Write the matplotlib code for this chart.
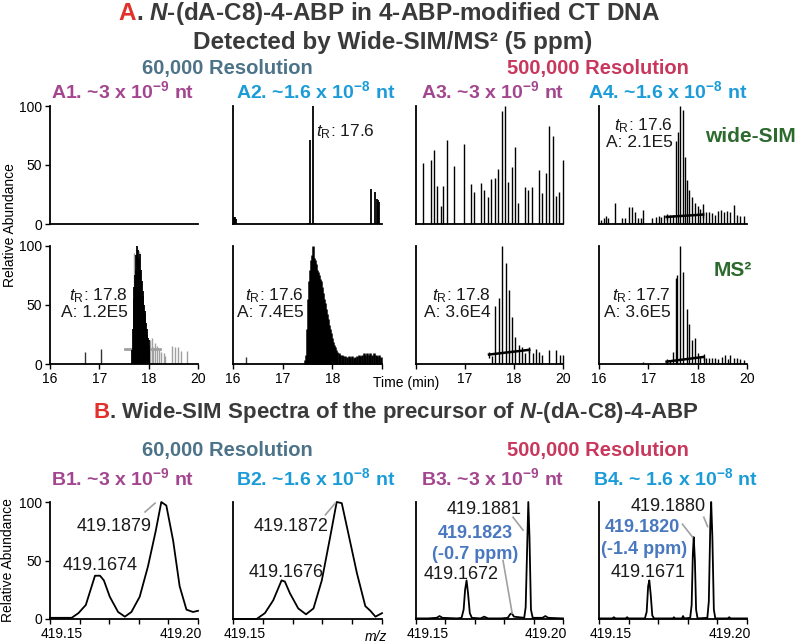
import matplotlib.pyplot as plt
import matplotlib.transforms as mtransforms

plt.rcParams['font.family'] = ['Liberation Sans', 'DejaVu Sans']
plt.rcParams['mathtext.fontset'] = 'custom'
plt.rcParams['mathtext.rm'] = 'Liberation Sans'
plt.rcParams['mathtext.it'] = 'Liberation Sans:italic'
plt.rcParams['mathtext.bf'] = 'Liberation Sans:bold'
plt.rcParams['mathtext.bfit'] = 'Liberation Sans:bold:italic'

RED = '#e2302b'
DARK = '#3a3a3a'
STEEL = '#4d7388'
CRIMSON = '#c9385c'
PURPLE = '#a3468f'
CYAN = '#1b9cd8'
GREEN = '#2d6a2e'
BLUE = '#4a78c0'
GREY = '#a0a0a0'

# ---------------- data ----------------
time_ticks = [16, 17, 18, 19]
time_labels = ['16', '17', '18', '20']
mz_ticks = [419.15, 419.16, 419.17, 419.18, 419.19, 419.20]
mz_labels = ['419.15', '', '', '', '', '419.20']

# A2 wide-SIM (60,000)
a2_sim_t = [16.03, 16.05, 16.07, 17.50, 17.55, 17.62, 17.66, 18.78, 18.85, 18.89, 18.91, 18.93]
a2_sim_y = [6, 6, 4, 1, 71, 100, 1, 30, 27, 21, 20, 19]

# A3 wide-SIM (500,000)
a3_sim_t = [16.15, 16.30, 16.37, 16.43, 16.50, 16.56, 16.64, 16.78, 16.98, 17.12, 17.19,
            17.32, 17.39, 17.47, 17.54, 17.61, 17.67, 17.75, 17.82, 17.88, 17.96, 18.02,
            18.09, 18.22, 18.29, 18.37, 18.50, 18.58, 18.65, 18.72, 18.79, 18.85, 18.92, 18.99]
a3_sim_y = [52, 54, 63, 32, 15, 32, 71, 49, 68, 34, 27, 35, 29, 23, 38, 39, 47, 96, 100,
            36, 48, 65, 18, 31, 29, 31, 46, 26, 43, 83, 75, 24, 27, 54]

# A4 wide-SIM (500,000)
a4_sim_t = [16.05, 16.10, 16.14, 16.19, 16.32, 16.46, 16.53, 16.60, 16.66, 16.73, 16.79,
            16.85, 16.90, 17.07, 17.15, 17.21, 17.25, 17.31, 17.37, 17.44, 17.50, 17.56,
            17.60, 17.65, 17.70, 17.75, 17.79, 17.83, 17.89, 17.95, 18.00, 18.05, 18.11,
            18.17, 18.22, 18.29, 18.36, 18.42, 18.47, 18.53, 18.59, 18.66, 18.73, 18.80,
            18.86, 18.93]
a4_sim_y = [3, 5, 7, 5, 18, 5, 5, 14, 14, 10, 5, 5, 12, 5, 6, 7, 6, 8, 6, 8, 8, 70, 78,
            100, 97, 57, 37, 29, 23, 18, 15, 13, 17, 10, 10, 9, 8, 11, 12, 10, 11, 10, 16,
            8, 7, 7]
a4_sim_base_t = [17.37, 18.11]
a4_sim_base_y = [6, 8]

# A1 MS2 (60,000)
a1_ms2_t = [17.67, 17.69, 17.70, 17.71, 17.73, 17.74, 17.75, 17.77, 17.78, 17.79, 17.81,
            17.82, 17.83, 17.85, 17.86, 17.88, 17.89, 17.90, 17.92, 17.93, 17.94, 17.96,
            17.97, 17.98, 18.00, 18.01]
a1_ms2_y = [12, 30, 55, 65, 75, 80, 92, 100, 90, 97, 88, 93, 78, 80, 70, 62, 58, 50, 45,
            42, 35, 30, 25, 22, 20, 15]
a1_ms2_spike_t = [16.71, 17.04]
a1_ms2_spike_y = [10, 13]
a1_ms2_grey_t = [17.71, 17.76, 17.80, 18.02, 18.06, 18.09, 18.12, 18.16, 18.21, 18.26,
                 18.31, 18.34, 18.48, 18.54, 18.60, 18.66, 18.78]
a1_ms2_grey_y = [94, 98, 96, 20, 22, 14, 18, 15, 12, 10, 9, 7, 15, 14, 14, 11, 11]
a1_ms2_base_t = [17.52, 18.23]
a1_ms2_base_y = [13, 13]

# A2 MS2 (60,000)
a2_ms2_t = [17.45, 17.47, 17.49, 17.51, 17.53, 17.55, 17.57, 17.59, 17.61, 17.63, 17.65,
            17.67, 17.69, 17.71, 17.73, 17.75, 17.77, 17.79, 17.81, 17.83, 17.85, 17.87,
            17.89, 17.91, 17.93, 17.95, 17.97, 17.99, 18.01, 18.03, 18.05, 18.07, 18.10,
            18.13, 18.16, 18.19, 18.22, 18.25, 18.29, 18.33, 18.36, 18.39, 18.43, 18.46,
            18.50, 18.53, 18.56, 18.60, 18.63, 18.66, 18.70, 18.73, 18.76, 18.80, 18.83,
            18.87, 18.90, 18.93, 18.97]
a2_ms2_y = [3, 8, 30, 55, 70, 80, 88, 92, 100, 90, 88, 85, 80, 78, 75, 72, 70, 65, 60, 55,
            52, 47, 42, 38, 33, 30, 26, 22, 19, 16, 14, 12, 10, 9, 8, 8, 7, 7, 6, 7, 6, 7,
            5, 6, 7, 8, 7, 8, 9, 8, 9, 8, 9, 8, 9, 8, 7, 8, 6]
a2_ms2_spike_t = [16.27]
a2_ms2_spike_y = [6]

# A3 MS2 (500,000)
a3_ms2_t = [17.55, 17.62, 17.69, 17.76, 17.83, 17.89, 17.96, 18.03, 18.10, 18.17, 18.23,
            18.31, 18.38, 18.44, 18.51, 18.58, 18.72, 18.85, 18.93, 18.99]
a3_ms2_y = [7, 49, 56, 100, 86, 63, 40, 23, 16, 14, 9, 13, 9, 13, 10, 8, 12, 12, 8, 8]
a3_ms2_base_t = [17.49, 18.31]
a3_ms2_base_y = [8, 12]

# A4 MS2 (500,000)
a4_ms2_t = [16.89, 17.44, 17.51, 17.56, 17.59, 17.65, 17.71, 17.78, 17.83, 17.89, 17.95,
            18.00, 18.05, 18.12, 18.17, 18.22, 18.29, 18.36, 18.42, 18.49, 18.55, 18.61,
            18.66, 18.73, 18.80, 18.86, 18.93]
a4_ms2_y = [2, 3, 10, 73, 75, 100, 78, 47, 34, 20, 22, 9, 6, 6, 5, 5, 5, 5, 4, 6, 8, 4,
            8, 5, 5, 4, 3]
a4_ms2_base_t = [17.37, 18.12]
a4_ms2_base_y = [2, 6]

# B spectra (m/z, relative abundance)
b1_mz = [419.1500, 419.1573, 419.1596, 419.1621, 419.1652, 419.1669, 419.1682, 419.1702,
         419.1730, 419.1753, 419.1775, 419.1803, 419.1831, 419.1857, 419.1876, 419.1893,
         419.1916, 419.1938, 419.1961, 419.1983, 419.2000]
b1_ab = [1, 1, 5, 12, 37, 37, 33, 19, 6, 2, 6, 19, 45, 75, 100, 97, 67, 28, 8, 6, 7]

b2_mz = [419.1500, 419.1579, 419.1607, 419.1635, 419.1663, 419.1674, 419.1691, 419.1719,
         419.1745, 419.1770, 419.1798, 419.1826, 419.1848, 419.1865, 419.1888, 419.1916,
         419.1944, 419.1961, 419.1978, 419.2000]
b2_ab = [0, 0, 5, 16, 33, 32, 22, 9, 4, 9, 33, 70, 100, 99, 72, 39, 11, 7, 2, 5]

b3_mz = [419.1500, 419.1540, 419.1570, 419.1580, 419.1590, 419.1640, 419.1655, 419.1662,
         419.1667, 419.1672, 419.1677, 419.1683, 419.1690, 419.1720, 419.1732, 419.1745,
         419.1790, 419.1812, 419.1820, 419.1826, 419.1833, 419.1868, 419.1873, 419.1878,
         419.1882, 419.1886, 419.1891, 419.1897, 419.1930, 419.1940, 419.1950, 419.2000]
b3_ab = [0.5, 0.5, 1, 2.5, 1, 0.5, 1, 8, 25, 33, 22, 5, 1, 0.5, 2, 0.5, 0.5, 1, 4, 5, 2,
         1, 10, 60, 100, 70, 8, 1, 1, 2.5, 1, 0.5]

b4_mz = [419.1500, 419.1545, 419.1550, 419.1556, 419.1590, 419.1595, 419.1600, 419.1655,
         419.1661, 419.1666, 419.1670, 419.1675, 419.1680, 419.1686, 419.1750, 419.1753,
         419.1757, 419.1780, 419.1784, 419.1788, 419.1808, 419.1813, 419.1817, 419.1820,
         419.1824, 419.1828, 419.1833, 419.1866, 419.1871, 419.1876, 419.1879, 419.1883,
         419.1888, 419.1893, 419.1935, 419.1940, 419.1945, 419.2000]
b4_ab = [0.5, 0.5, 1.5, 0.5, 0.5, 1.5, 0.5, 0.5, 6, 28, 33, 20, 3, 0.5, 0.5, 1.5, 0.5,
         0.5, 2.5, 0.5, 1, 12, 55, 70, 50, 8, 0.5, 1, 15, 80, 100, 70, 8, 0.5, 0.5, 1.5,
         0.5, 0.5]

# ---------------- figure ----------------
W, H = 800, 643
fig = plt.figure(figsize=(8, 6.43), dpi=100)


def add_panel(x0, y0, x1, y1):
    ax = fig.add_axes([x0 / W, 1 - y1 / H, (x1 - x0) / W, (y1 - y0) / H])
    for s in ['top', 'right']:
        ax.spines[s].set_visible(False)
    for s in ['left', 'bottom']:
        ax.spines[s].set_linewidth(1.3)
    ax.set_ylim(0, 100)
    ax.tick_params(length=3.5, width=1, labelsize=10, pad=2)
    ax.patch.set_alpha(0)
    return ax


def ftext(x, y, s, **kw):
    return fig.text(x / W, 1 - y / H, s, **kw)


def seg_line(xc, yb, parts, size):
    r = fig.canvas.get_renderer()
    objs = [ftext(0, yb, s, color=c, fontsize=size, fontweight='bold',
                  va='baseline', ha='left') for s, c in parts]
    ws = [o.get_window_extent(r).width for o in objs]
    x = xc - sum(ws) / 2
    for o, w in zip(objs, ws):
        o.set_x(x / W)
        x += w


def shift(label, dx_px):
    off = mtransforms.ScaledTranslation(dx_px / 100, 0, fig.dpi_scale_trans)
    label.set_transform(label.get_transform() + off)


cols = [(50, 198), (233, 382), (416, 563), (599, 747)]
row1 = (106, 224)
row2 = (246, 364)
rowb = (502, 619)

A = {}
for i, (x0, x1) in enumerate(cols):
    for r, (y0, y1) in enumerate([row1, row2]):
        ax = add_panel(x0, y0, x1, y1)
        ax.set_xlim(16, 19)
        if r == 0:
            ax.set_xticks([])
        else:
            ax.set_xticks(time_ticks)
            labels = list(time_labels)
            if i == 1:
                labels[-1] = ''
            if i == 2:
                labels[0] = ''
            ax.set_xticklabels(labels)
        if i == 0:
            ax.set_yticks([0, 50, 100])
        else:
            ax.set_yticks([])
        A[(i, r)] = ax

vl = dict(clip_on=False)

ax = A[(1, 0)]
ax.vlines(a2_sim_t, 0, a2_sim_y, color='black', lw=1.3, **vl)

ax = A[(2, 0)]
ax.vlines(a3_sim_t, 0, a3_sim_y, color='black', lw=1.0, **vl)

ax = A[(3, 0)]
ax.vlines(a4_sim_t, 0, a4_sim_y, color='black', lw=1.0, **vl)
ax.plot(a4_sim_base_t, a4_sim_base_y, color='black', lw=1.8, marker='|', ms=4)

ax = A[(0, 1)]
ax.vlines(a1_ms2_grey_t, 0, a1_ms2_grey_y, color=GREY, lw=1.0, **vl)
ax.plot(a1_ms2_base_t, a1_ms2_base_y, color=GREY, lw=2)
ax.vlines(a1_ms2_t, 0, a1_ms2_y, color='black', lw=1.3, **vl)
ax.vlines(a1_ms2_spike_t, 0, a1_ms2_spike_y, color='#333333', lw=1.0, **vl)

ax = A[(1, 1)]
ax.vlines(a2_ms2_t, 0, a2_ms2_y, color='black', lw=1.8, **vl)
ax.vlines(a2_ms2_spike_t, 0, a2_ms2_spike_y, color='#333333', lw=1.0, **vl)

ax = A[(2, 1)]
ax.vlines(a3_ms2_t, 0, a3_ms2_y, color='black', lw=1.0, **vl)
ax.plot(a3_ms2_base_t, a3_ms2_base_y, color='black', lw=1.8, marker='|', ms=4)

ax = A[(3, 1)]
ax.vlines(a4_ms2_t, 0, a4_ms2_y, color='black', lw=1.0, **vl)
ax.plot(a4_ms2_base_t, a4_ms2_base_y, color='black', lw=1.8, marker='|', ms=4)

# retention time / area labels
ann = dict(fontsize=12.5, color='#1a1a1a')
A[(1, 0)].text(17.67, 78, r'$t_{\mathrm{R}}$: 17.6', ha='left', va='center', **ann)
A[(3, 0)].text(17.50, 83, r'$t_{\mathrm{R}}$: 17.6', ha='right', va='center', **ann)
A[(3, 0)].text(17.50, 69, 'A: 2.1E5', ha='right', va='center', **ann)
for (i, x, tr, area) in [(0, 17.58, '17.8', '1.2E5'), (1, 17.43, '17.6', '7.4E5'),
                         (2, 17.53, '17.8', '3.6E4'), (3, 17.46, '17.7', '3.6E5')]:
    A[(i, 1)].text(x, 58, r'$t_{\mathrm{R}}$: ' + tr, ha='right', va='center', **ann)
    A[(i, 1)].text(x, 44, 'A: ' + area, ha='right', va='center', **ann)

ftext(406, 383, 'Time (min)', fontsize=10, ha='center', va='center')

# B panels
B = []
for i, (x0, x1) in enumerate(cols):
    ax = add_panel(x0, rowb[0], x1, rowb[1])
    ax.set_xlim(419.15, 419.20)
    ax.set_xticks(mz_ticks)
    labels = list(mz_labels)
    if i == 1:
        labels[-1] = ''
    ax.set_xticklabels(labels)
    tl = ax.get_xticklabels()
    shift(tl[0], 12)
    shift(tl[-1], -17)
    if i == 0:
        ax.set_yticks([0, 50, 100])
    else:
        ax.set_yticks([])
    B.append(ax)

for ax, mz, ab in zip(B, [b1_mz, b2_mz, b3_mz, b4_mz], [b1_ab, b2_ab, b3_ab, b4_ab]):
    ax.plot(mz, ab, color='black', lw=1.3, clip_on=False)

ftext(376, 637, 'm/z', fontsize=10, style='italic', ha='center', va='center')

lead = dict(color=GREY, lw=1.2, clip_on=False)
annb = dict(fontsize=13, color='#1a1a1a', ha='center', va='center')
B[0].text(419.1715, 79, '419.1879', **annb)
B[0].plot([419.1821, 419.1855], [91.5, 99], **lead)
B[0].text(419.1669, 46, '419.1674', **annb)
B[1].text(419.1694, 79, '419.1872', **annb)
B[1].plot([419.1810, 419.1843], [89, 99], **lead)
B[1].text(419.1679, 40, '419.1676', **annb)

B[2].text(419.1733, 94, '419.1881', **annb)
B[2].plot([419.1830, 419.1864], [87, 76], **lead)
bl = dict(fontsize=13, color=BLUE, fontweight='bold', ha='center', va='center')
B[2].text(419.1701, 73.5, '419.1823', **bl)
B[2].text(419.1702, 55, '(-0.7 ppm)', **bl)
B[2].plot([419.1796, 419.1827], [50, 5], **lead)
B[2].text(419.1655, 38, '419.1672', **annb)

B[3].text(419.1735, 96, '419.1880', **annb)
B[3].plot([419.1854, 419.1867], [87, 79], **lead)
B[3].text(419.1645, 78, '419.1820', **bl)
B[3].text(419.1651, 59, '(-1.4 ppm)', **bl)
B[3].plot([419.1782, 419.1816], [81, 70], **lead)
B[3].text(419.1667, 40, '419.1671', **annb)

# y-axis labels
ftext(10, 225, 'Relative Abundance', fontsize=10, rotation=90, ha='center', va='center')
ftext(8, 560, 'Relative Abundance', fontsize=10, rotation=90, ha='center', va='center')

# titles
seg_line(389, 20, [('A', RED), (r'. $\mathbfit{N}$-(dA-C8)-4-ABP in 4-ABP-modified CT DNA', DARK)], 17.5)
ftext(393, 49, 'Detected by Wide-SIM/MS² (5 ppm)', fontsize=17.5, fontweight='bold',
      color=DARK, ha='center', va='baseline')
ftext(227, 74, '60,000 Resolution', fontsize=14.5, fontweight='bold', color=STEEL,
      ha='center', va='baseline')
ftext(598, 74, '500,000 Resolution', fontsize=14.5, fontweight='bold', color=CRIMSON,
      ha='center', va='baseline')
sub_a = [r'A1. ~3 x $\mathbf{10^{-9}}$ nt', r'A2. ~1.6 x $\mathbf{10^{-8}}$ nt',
         r'A3. ~3 x $\mathbf{10^{-9}}$ nt', r'A4. ~1.6 x $\mathbf{10^{-8}}$ nt']
sub_b = [r'B1. ~3 x $\mathbf{10^{-9}}$ nt', r'B2. ~1.6 x $\mathbf{10^{-8}}$ nt',
         r'B3. ~3 x $\mathbf{10^{-9}}$ nt', r'B4. ~ 1.6 x $\mathbf{10^{-8}}$ nt']
sub_cx_a = [123, 316, 493, 668]
sub_cx_b = [123, 316, 493, 675]
sub_col = [PURPLE, CYAN, PURPLE, CYAN]
for s, x, c in zip(sub_a, sub_cx_a, sub_col):
    ftext(x, 98, s, fontsize=14, fontweight='bold', color=c, ha='center', va='baseline')

ftext(750, 137, 'wide-SIM', fontsize=15, fontweight='bold', color=GREEN, ha='center', va='center')
ftext(733, 270, 'MS²', fontsize=15, fontweight='bold', color=GREEN, ha='center', va='center')

seg_line(396, 418, [('B', RED), (r'. Wide-SIM Spectra of the precursor of $\mathbfit{N}$-(dA-C8)-4-ABP', DARK)], 16)
ftext(227, 456, '60,000 Resolution', fontsize=14.5, fontweight='bold', color=STEEL,
      ha='center', va='baseline')
ftext(598, 456, '500,000 Resolution', fontsize=14.5, fontweight='bold', color=CRIMSON,
      ha='center', va='baseline')
for s, x, c in zip(sub_b, sub_cx_b, sub_col):
    ftext(x, 485, s, fontsize=14, fontweight='bold', color=c, ha='center', va='baseline')

fig.savefig('out.png', dpi=100)
